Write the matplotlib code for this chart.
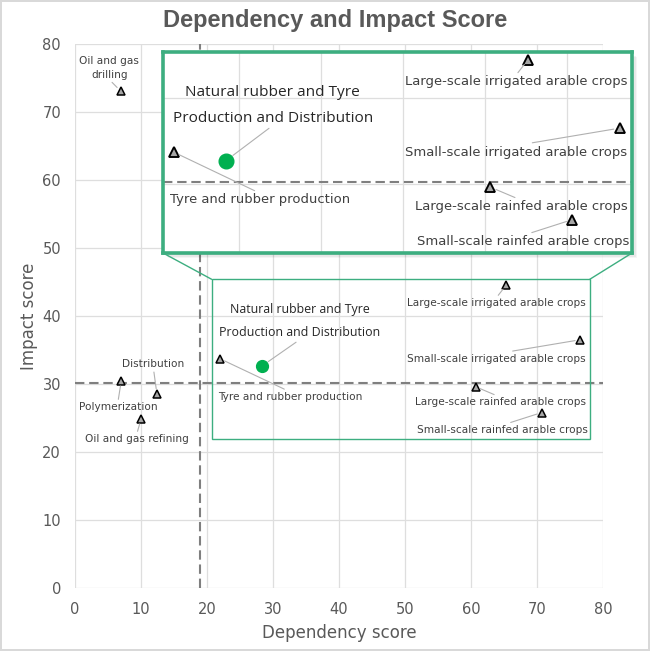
import matplotlib.pyplot as plt
from matplotlib.patches import Rectangle, ConnectionPatch

# ---- data -------------------------------------------------------------
names = ['Oil and gas\ndrilling', 'Polymerization', 'Distribution', 'Oil and gas refining',
         'Tyre and rubber production', 'Large-scale irrigated arable crops',
         'Small-scale irrigated arable crops', 'Large-scale rainfed arable crops',
         'Small-scale rainfed arable crops']
dependency = [6.9, 7.0, 12.4, 10.0, 22.0, 65.3, 76.5, 60.7, 70.7]
impact = [73.1, 30.4, 28.6, 24.8, 33.7, 44.5, 36.5, 29.6, 25.8]

focus_name = 'Natural rubber and Tyre\nProduction and Distribution'
focus_dep, focus_imp = 28.4, 32.7

dep_threshold = 18.9
imp_threshold = 30.2

# ---- layout -----------------------------------------------------------
# label centres (data units) and where the leader line leaves the label box
label_pos = [(5.2, 76.5), (6.5, 26.6), (11.9, 32.9), (9.35, 21.9), (32.6, 28.1),
             (63.8, 41.9), (63.8, 33.7), (64.5, 27.3), (64.7, 23.2)]
label_rel = [(0.5, 0), (0.5, 1), (0.5, 0), (0.5, 1), (0.5, 1),
             (0.5, 1), (0.5, 1), (0.5, 1), (0.5, 1)]
focus_label_pos = (34.1, 39.2)
zoom_box = (20.7, 78.0, 21.9, 45.4)      # x0, x1, y0, y1 of the magnified region

GREEN = '#00B050'
FRAME = '#3DAE80'
TXT = '#404040'
TICK = '#595959'
GRID = '#DEDEDE'

fig = plt.figure(figsize=(6.5, 6.51), dpi=100)
fig.patch.set_edgecolor('#D9D9D9'); fig.patch.set_linewidth(1.5)


def draw(ax, s, only_box=False):
    ax.set_axisbelow(True)
    ax.grid(True, color=GRID, lw=0.9)
    for sp in ax.spines.values():
        sp.set_visible(False)
    ax.axvline(dep_threshold, color='#7F7F7F', lw=1.5, dashes=(4.5, 2.3), zorder=2)
    ax.axhline(imp_threshold, color='#7F7F7F', lw=1.5, dashes=(4.5, 2.3), zorder=2)
    x0, x1, y0, y1 = zoom_box
    for nm, dx, iy, lp, rp in zip(names, dependency, impact, label_pos, label_rel):
        if only_box and not (x0 <= dx <= x1 and y0 <= iy <= y1):
            continue
        ax.plot(dx, iy, marker='^', ms=6.0 * s, mfc='#A6A6A6', mec='black',
                mew=1.1 * s, zorder=5, clip_on=False)
        ax.annotate(nm, (dx, iy), lp, ha='center', va='center', fontsize=7.6 * s,
                    color=TXT, linespacing=1.45, zorder=6,
                    arrowprops=dict(arrowstyle='-', color='#B0B0B0', lw=0.8,
                                    shrinkA=0, shrinkB=3.5 * s, relpos=rp))
    ax.plot(focus_dep, focus_imp, 'o', ms=8.5 * s, color=GREEN, zorder=5)
    ax.annotate(focus_name, (focus_dep, focus_imp), focus_label_pos, ha='center',
                va='center', fontsize=8.9 * s, color='#262626', family='Open Sans',
                linespacing=2.0, zorder=6,
                arrowprops=dict(arrowstyle='-', color='#B0B0B0', lw=0.8,
                                shrinkA=0, shrinkB=5 * s, relpos=(0.5, 0)))


# ---- main axes --------------------------------------------------------
ax = fig.add_axes([75 / 650, 1 - 588 / 651, 528 / 650, 544 / 651])
draw(ax, 1.0)
ax.set_xlim(0, 80); ax.set_ylim(0, 80)
ax.set_xticks(range(0, 81, 10)); ax.set_yticks(range(0, 81, 10))
ax.tick_params(length=0, labelsize=10.5, labelcolor=TICK, pad=10)
ax.set_xlabel('Dependency score', fontsize=12, color=TICK, labelpad=5)
ax.set_ylabel('Impact score', fontsize=12, color=TICK, labelpad=3)
x0, x1, y0, y1 = zoom_box
ax.add_patch(Rectangle((x0, y0), x1 - x0, y1 - y0, fill=False, ec=FRAME, lw=1.0, zorder=7))

fig.text(0.516, 1 - 21 / 651, 'Dependency and Impact Score', ha='center', va='center',
         fontsize=17, fontweight='bold', color=TICK, family='Liberation Sans')

# ---- magnified inset --------------------------------------------------
ib = [163 / 650, 1 - 253 / 651, 469 / 650, 201 / 651]
for k, a in enumerate([0.05, 0.05, 0.05, 0.04]):
    off = (k + 1) * 1.2
    fig.patches.append(Rectangle((ib[0] + off / 650, ib[1] - off / 651), ib[2], ib[3],
                                 transform=fig.transFigure, color='black', alpha=a,
                                 lw=0, zorder=8))
ins = fig.add_axes(ib, zorder=10)
ins.set_facecolor('white')
draw(ins, 1.24, only_box=True)
ins.set_xlim(x0, x1); ins.set_ylim(y0, y1)
ins.set_xticks(range(30, 80, 10)); ins.set_yticks(range(30, 50, 10))
ins.tick_params(length=0, labelbottom=False, labelleft=False)
for sp in ins.spines.values():
    sp.set_visible(True); sp.set_color(FRAME); sp.set_linewidth(2.6)

for (ia, da) in [((0, 0), (x0, y1)), ((1, 0), (x1, y1))]:
    fig.add_artist(ConnectionPatch(ia, da, coordsA=ins.transAxes, coordsB=ax.transData,
                                   color=FRAME, lw=1.0, zorder=9))

fig.savefig('out.png', dpi=100)
